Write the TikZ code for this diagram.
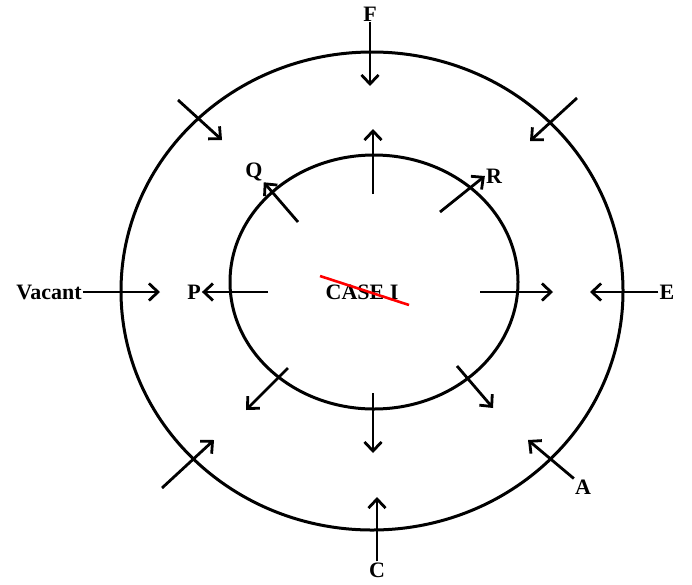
\documentclass[tikz,border=0pt]{standalone}
\usepackage{fontspec}
\setmainfont{Liberation Serif}
\usetikzlibrary{arrows.meta,positioning}
\tikzset{
  ring/.style={line width=3pt},
  flow/.style={line width=2.8pt,-{Straight Barb[length=9pt,width=17pt,line width=2.8pt]}},
  lbl/.style={font=\bfseries\fontsize{22}{25}\selectfont,inner sep=1pt}
}
\begin{document}
\begin{tikzpicture}[x=1pt,y=-1pt]
  \useasboundingbox (0,0) rectangle (692,584);
  % outer and inner ring
  \draw[ring] (372,291) ellipse [x radius=251,y radius=239];
  \draw[ring] (374,282) ellipse [x radius=144,y radius=127];
  % labels
  \node[lbl] (F) at (370,14) {F};
  \node[lbl] (vac) at (49,292) {Vacant};
  \node[lbl] (E) at (667,292) {E};
  \node[lbl] (A) at (583,487) {A};
  \node[lbl] (C) at (377,570) {C};
  \node[lbl] (Q) at (254,172) {Q};
  \node[lbl] (R) at (494,176) {R};
  \node[lbl] (P) at (194,292) {P};
  \node[lbl] (case) at (362,292) {CASE I};
  % outer arrows, pointing inwards
  \coordinate (f1) at (370,86);
  \coordinate (tl0) at (178,100); \coordinate (tl1) at (222,140);
  \coordinate (tr0) at (577,98);  \coordinate (tr1) at (530,141);
  \coordinate (v1) at (160,292);
  \coordinate (e1) at (590,290);
  \coordinate (bl0) at (162,488); \coordinate (bl1) at (214,440);
  \coordinate (a1) at (528,440);
  \coordinate (c1) at (375,497);
  \draw[flow] (F.south) -- (F.south |- f1);
  \draw[flow] (tl0) -- (tl1);
  \draw[flow] (tr0) -- (tr1);
  \draw[flow] (vac.east) -- (vac.east -| v1);
  \draw[flow] (E.west) -- (E.west -| e1);
  \draw[flow] (bl0) -- (bl1);
  \draw[flow] (A.north west) -- (a1);
  \draw[flow] (C.north) -- (C.north |- c1);
  % inner arrows, pointing outwards
  \coordinate (t0) at (373,194); \coordinate (t1) at (373,129);
  \coordinate (q0) at (298,222);
  \coordinate (r0) at (440,212);
  \coordinate (p0) at (268,292);
  \coordinate (rt0) at (480,292); \coordinate (rt1) at (553,292);
  \coordinate (lb0) at (288,368); \coordinate (lb1) at (246,410);
  \coordinate (b0) at (373,393);  \coordinate (b1) at (373,453);
  \coordinate (rb0) at (457,366); \coordinate (rb1) at (493,408);
  \draw[flow] (t0) -- (t1);
  \draw[flow] (q0) -- (Q.south east);
  \draw[flow] (r0) -- (R.west);
  \draw[flow] (p0) -- (P.east);
  \draw[flow] (rt0) -- (rt1);
  \draw[flow] (lb0) -- (lb1);
  \draw[flow] (b0) -- (b1);
  \draw[flow] (rb0) -- (rb1);
  % strike-through
  \draw[red,line width=2.6pt] (320,276) -- (409,305);
\end{tikzpicture}
\end{document}
